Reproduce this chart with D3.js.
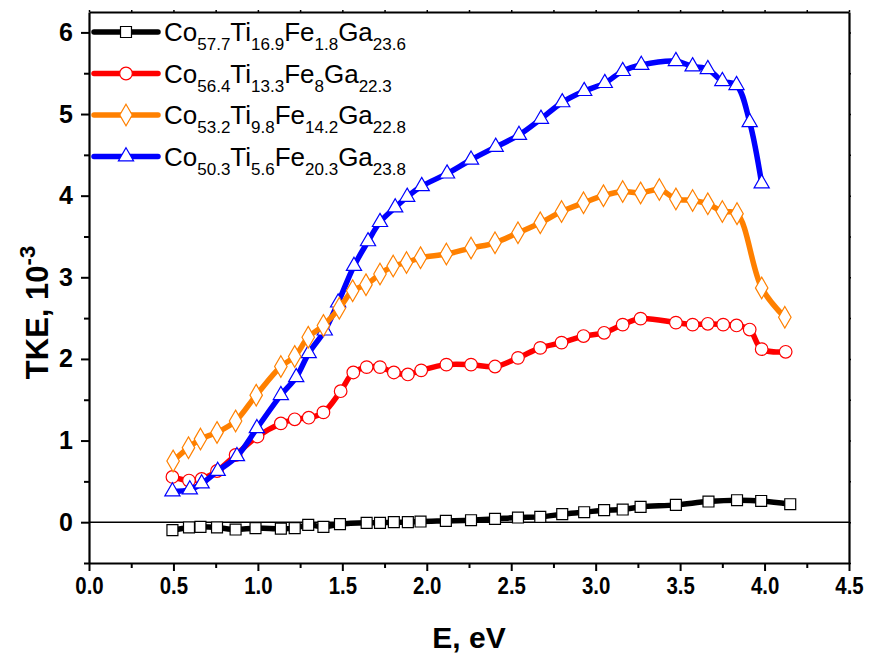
<!DOCTYPE html>
<html>
<head>
<meta charset="utf-8">
<script src="https://cdn.jsdelivr.net/npm/d3@7/dist/d3.min.js"></script>
<style>
  html, body { margin: 0; padding: 0; background: #fff; }
  svg { display: block; font-family: "Liberation Sans", Arial, sans-serif; }
</style>
</head>
<body>
<svg id="chart" width="869" height="660"></svg>
<script>
// Photon energy (eV) and TKE (x10^-3) for each alloy
const energyA = [0.494,0.592,0.66,0.758,0.868,0.986,1.136,1.218,1.298,1.388,1.486,1.644,1.723,1.805,1.888,1.963,2.113,2.262,2.404,2.54,2.672,2.802,2.932,3.05,3.16,3.266,3.475,3.668,3.837,3.98,4.152];
const tkeA    = [-0.098,-0.065,-0.057,-0.065,-0.09,-0.073,-0.08,-0.073,-0.033,-0.057,-0.024,-0.008,-0.008,0.0,0.0,0.008,0.016,0.024,0.04,0.057,0.065,0.098,0.122,0.147,0.155,0.187,0.212,0.253,0.269,0.26,0.22];

const energyB = [0.494,0.592,0.667,0.758,0.868,0.998,1.136,1.218,1.301,1.388,1.49,1.565,1.644,1.723,1.805,1.888,1.967,2.116,2.262,2.404,2.54,2.672,2.798,2.928,3.05,3.16,3.266,3.475,3.574,3.664,3.755,3.834,3.912,3.983,4.125];
const tkeB    = [0.554,0.51,0.53,0.627,0.823,1.05,1.21,1.26,1.28,1.345,1.605,1.834,1.9,1.9,1.834,1.81,1.86,1.93,1.93,1.907,2.013,2.135,2.2,2.28,2.32,2.42,2.494,2.445,2.42,2.43,2.42,2.41,2.36,2.12,2.087];

const energyC = [0.498,0.589,0.66,0.758,0.868,0.99,1.136,1.218,1.298,1.388,1.482,1.561,1.64,1.723,1.801,1.88,1.963,2.116,2.262,2.404,2.54,2.672,2.798,2.928,3.046,3.16,3.266,3.377,3.475,3.574,3.664,3.75,3.837,3.983,4.12];
const tkeC    = [0.75,0.913,1.018,1.1,1.24,1.556,1.907,2.03,2.266,2.41,2.62,2.836,2.91,3.04,3.138,3.18,3.24,3.285,3.358,3.423,3.545,3.667,3.806,3.912,4.0,4.05,4.034,4.075,3.96,3.94,3.9,3.806,3.78,2.87,2.51];

const energyD = [0.494,0.597,0.667,0.762,0.876,0.994,1.136,1.227,1.301,1.396,1.475,1.569,1.652,1.723,1.813,1.884,1.97,2.12,2.262,2.408,2.546,2.676,2.802,2.932,3.054,3.16,3.27,3.475,3.574,3.664,3.75,3.834,3.912,3.983];
const tkeD    = [0.375,0.4,0.473,0.627,0.807,1.15,1.556,1.776,2.07,2.347,2.69,3.138,3.44,3.676,3.855,3.985,4.116,4.27,4.44,4.597,4.743,4.94,5.143,5.281,5.379,5.526,5.6,5.648,5.583,5.55,5.403,5.354,4.9,4.148];

// Legend compositions: [element, subscript]
const labelA = [["Co","57.7"],["Ti","16.9"],["Fe","1.8"],["Ga","23.6"]];
const labelB = [["Co","56.4"],["Ti","13.3"],["Fe","8"],["Ga","22.3"]];
const labelC = [["Co","53.2"],["Ti","9.8"],["Fe","14.2"],["Ga","22.8"]];
const labelD = [["Co","50.3"],["Ti","5.6"],["Fe","20.3"],["Ga","23.8"]];

const xTicks = [0,0.5,1,1.5,2,2.5,3,3.5,4,4.5];
const yTicks = [0,1,2,3,4,5,6];

const series = [
  {x: energyA, y: tkeA, label: labelA, color: "#000000", mstroke: "#000000", symbol: d3.symbolSquare, msize: 120},
  {x: energyB, y: tkeB, label: labelB, color: "#ff0000", mstroke: "#ff0000", symbol: d3.symbolCircle, msize: 125},
  {x: energyD, y: tkeD, label: labelD, color: "#0000ff", mstroke: "#0000ff", symbol: d3.symbolTriangle, msize: 100},
  {x: energyC, y: tkeC, label: labelC, color: "#ff8000", mstroke: "#ff8000", symbol: d3.symbolDiamond, msize: 135}
];
const legendOrder = [0, 1, 3, 2];

const svg = d3.select("#chart");
const m = {left: 89, right: 849, top: 12, bottom: 563};

const x = d3.scaleLinear().domain([0, 4.5]).range([m.left, m.right]);
const y = d3.scaleLinear().domain([-0.5, 6.25]).range([m.bottom, m.top]);

// minor ticks
const xMinor = d3.range(0.25, 4.5, 0.5);
const yMinor = d3.range(-0.5, 6.01, 1).filter(v => v % 1 !== 0);

const axisG = svg.append("g");

// zero line
axisG.append("line")
  .attr("x1", m.left).attr("x2", m.right)
  .attr("y1", y(0)).attr("y2", y(0))
  .attr("stroke", "#000").attr("stroke-width", 1.6);

// x axis
const xAxis = axisG.append("g")
  .attr("transform", `translate(0,${m.bottom})`)
  .call(d3.axisBottom(x).tickValues(xTicks).tickFormat(d3.format(".1f")).tickSize(8).tickSizeOuter(0).tickPadding(6));
xAxis.selectAll(".tick line").attr("stroke-width", 2);
xAxis.selectAll(".tick text")
  .attr("font-size", 24).attr("font-weight", "bold")
  .attr("font-family", "'Liberation Sans', Arial, sans-serif")
  .attr("transform", "scale(0.85,1)");
xAxis.select(".domain").attr("stroke-width", 2.2);
axisG.append("g")
  .attr("transform", `translate(0,${m.bottom})`)
  .call(d3.axisBottom(x).tickValues(xMinor).tickFormat("").tickSize(5).tickSizeOuter(0))
  .call(g => g.select(".domain").remove())
  .selectAll("line").attr("stroke-width", 2);

// y axis
const yAxis = axisG.append("g")
  .attr("transform", `translate(${m.left},0)`)
  .call(d3.axisLeft(y).tickValues(yTicks).tickFormat(d3.format("d")).tickSize(8).tickSizeOuter(0).tickPadding(8));
yAxis.selectAll(".tick line").attr("stroke-width", 2);
yAxis.selectAll(".tick text")
  .attr("font-size", 25).attr("font-weight", "bold")
  .attr("font-family", "'Liberation Sans', Arial, sans-serif");
yAxis.select(".domain").attr("stroke-width", 2.2);
axisG.append("g")
  .attr("transform", `translate(${m.left},0)`)
  .call(d3.axisLeft(y).tickValues(yMinor).tickFormat("").tickSize(5).tickSizeOuter(0))
  .call(g => g.select(".domain").remove())
  .selectAll("line").attr("stroke-width", 2);

// top and right frame with small outer ticks
axisG.append("g")
  .attr("transform", `translate(0,${m.top})`)
  .call(d3.axisTop(x).tickValues(xTicks.concat(xMinor)).tickFormat("").tickSize(2).tickSizeOuter(0))
  .call(g => g.select(".domain").attr("stroke-width", 2.2))
  .selectAll("line").attr("stroke-width", 1.5);
axisG.append("g")
  .attr("transform", `translate(${m.right},0)`)
  .call(d3.axisRight(y).tickValues(yTicks.concat(yMinor)).tickFormat("").tickSize(2).tickSizeOuter(0))
  .call(g => g.select(".domain").attr("stroke-width", 2.2))
  .selectAll("line").attr("stroke-width", 1.5);

// axis titles
svg.append("text")
  .attr("x", (m.left + m.right) / 2).attr("y", 648)
  .attr("text-anchor", "middle")
  .attr("font-size", 30).attr("font-weight", "bold")
  .text("E, eV");

const yTitle = svg.append("text")
  .attr("transform", `translate(48,${(m.top + m.bottom) / 2 + 25}) rotate(-90)`)
  .attr("text-anchor", "middle")
  .attr("font-size", 31).attr("font-weight", "bold");
yTitle.append("tspan").text("TKE, 10");
yTitle.append("tspan").attr("font-size", 22).attr("dy", -13).text("-3");

// data curves
const plot = svg.append("g");
const line = d3.line().curve(d3.curveCatmullRom.alpha(0.5));

series.forEach(s => {
  const pts = s.x.map((e, i) => [x(e), y(s.y[i])]);
  const g = plot.append("g");
  g.append("path")
    .attr("d", line(pts))
    .attr("fill", "none")
    .attr("stroke", s.color)
    .attr("stroke-width", 5.5)
    .attr("stroke-linejoin", "round");
  g.selectAll("path.mk")
    .data(pts)
    .join("path")
    .attr("class", "mk")
    .attr("transform", d => `translate(${d[0]},${d[1]})`)
    .attr("d", d3.symbol().type(s.symbol).size(s.msize))
    .attr("fill", "#fff")
    .attr("stroke", s.mstroke)
    .attr("stroke-width", 1.2);
});

// legend
const legend = svg.append("g");
legendOrder.forEach((si, row) => {
  const s = series[si];
  const ly = 32 + row * 41.5;
  const g = legend.append("g");
  g.append("line")
    .attr("x1", 94).attr("x2", 158)
    .attr("y1", ly).attr("y2", ly)
    .attr("stroke", s.color).attr("stroke-width", 5.5).attr("stroke-linecap", "round");
  g.append("path")
    .attr("transform", `translate(126,${ly})`)
    .attr("d", d3.symbol().type(s.symbol).size(s.msize))
    .attr("fill", "#fff")
    .attr("stroke", s.mstroke)
    .attr("stroke-width", 1.2);
  const t = g.append("text")
    .attr("x", 164).attr("y", ly + 9)
    .attr("font-size", 26);
  s.label.forEach(([el, sub], i) => {
    t.append("tspan").attr("font-size", 26).attr("dy", i === 0 ? 0 : -9).text(el);
    t.append("tspan").attr("font-size", 17).attr("dy", 9).text(sub);
  });
});
</script>
</body>
</html>
